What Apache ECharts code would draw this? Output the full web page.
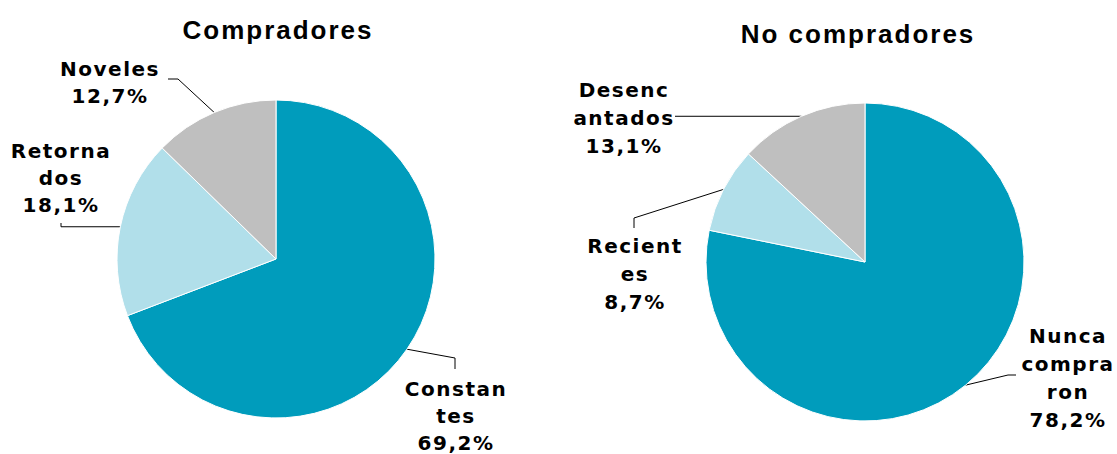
<!DOCTYPE html>
<html>
<head>
<meta charset="utf-8">
<script src="https://cdn.jsdelivr.net/npm/echarts@6/dist/echarts.min.js"></script>
<style>
  html, body { margin: 0; padding: 0; background: #fff; }
  #chart { width: 1117px; height: 454px; }
</style>
</head>
<body>
<div id="chart"></div>
<script>
// Purchase behaviour segments (share of respondents, %)
const buyerCategories = ['Constantes', 'Retornados', 'Noveles'];
const buyerLabels = ['Constan\ntes', 'Retorna\ndos', 'Noveles'];
const buyerValues = [69.2, 18.1, 12.7];

const nonBuyerCategories = ['Nunca compraron', 'Recientes', 'Desencantados'];
const nonBuyerLabels = ['Nunca\ncompra\nron', 'Recient\nes', 'Desenc\nantados'];
const nonBuyerValues = [78.2, 8.7, 13.1];

const titles = ['Compradores', 'No compradores'];

const sliceColors = ['#009cbc', '#b1dfea', '#bfbfbf'];

// Label placement: centre x, top y, leader bend and end point per slice.
// A bend y of null keeps the first leader segment horizontal.
const labelSpots = [
  [
    { x: 456, y: 375, bend: [455, 358], end: [455, 369] },
    { x: 61, y: 137, bend: [61, null], end: [61, 223] },
    { x: 110, y: 55, bend: [178, 79], end: [168, 79] }
  ],
  [
    { x: 1068, y: 322, bend: [1008, 375], end: [1016, 375] },
    { x: 635, y: 232, bend: [634, 218], end: [634, 228] },
    { x: 624, y: 76, bend: [675, null], end: [675, null] }
  ]
];

const fmtPct = v => v.toFixed(1).replace('.', ',') + '%';

function buildData(categories, labels, values) {
  return categories.map((name, i) => ({
    name: name,
    value: values[i],
    labelText: labels[i],
    itemStyle: { color: sliceColors[i] }
  }));
}

function pieSeries(idx, center, data, lineHeight) {
  return {
    type: 'pie',
    center: center,
    radius: 159,
    startAngle: 90,
    clockwise: true,
    avoidLabelOverlap: false,
    animation: false,
    itemStyle: { borderColor: '#ffffff', borderWidth: 1 },
    emphasis: { disabled: true },
    label: {
      show: true,
      position: 'outside',
      color: '#000000',
      fontFamily: 'DejaVu Sans',
      fontWeight: 'bold',
      fontSize: 20,
      lineHeight: lineHeight,
      align: 'center',
      formatter: p => p.data.labelText + '\n' + fmtPct(p.value)
    },
    labelLine: {
      show: true,
      lineStyle: { color: '#000000', width: 1 }
    },
    labelLayout: function (params) {
      const spot = labelSpots[idx][params.dataIndex];
      const anchor = params.labelLinePoints ? params.labelLinePoints[0] : [spot.bend[0], spot.end[1]];
      const bend = [spot.bend[0], spot.bend[1] == null ? anchor[1] : spot.bend[1]];
      const end = [spot.end[0], spot.end[1] == null ? anchor[1] : spot.end[1]];
      return {
        x: spot.x,
        y: spot.y,
        align: 'center',
        verticalAlign: 'top',
        labelLinePoints: [anchor, bend, end]
      };
    },
    data: data
  };
}

const chart = echarts.init(document.getElementById('chart'), null, { renderer: 'svg' });
chart.setOption({
  backgroundColor: '#ffffff',
  title: [
    {
      text: titles[0], left: 273, top: 12, textAlign: 'center',
      textStyle: { fontFamily: 'Liberation Sans', fontWeight: 'bold', fontSize: 26, color: '#000' }
    },
    {
      text: titles[1], left: 853, top: 16, textAlign: 'center',
      textStyle: { fontFamily: 'Liberation Sans', fontWeight: 'bold', fontSize: 26, color: '#000' }
    }
  ],
  series: [
    pieSeries(0, [276, 259], buildData(buyerCategories, buyerLabels, buyerValues), 27),
    pieSeries(1, [865, 262], buildData(nonBuyerCategories, nonBuyerLabels, nonBuyerValues), 28)
  ]
});

// Widen the lettering: titles and slice labels are set with extra tracking
function applyTracking() {
  document.querySelectorAll('#chart svg text').forEach(t => {
    const st = t.getAttribute('style') || '';
    t.style.letterSpacing = st.indexOf('26px') >= 0 ? '2px' : '1.5px';
  });
}
applyTracking();
chart.on('finished', applyTracking);
</script>
</body>
</html>
